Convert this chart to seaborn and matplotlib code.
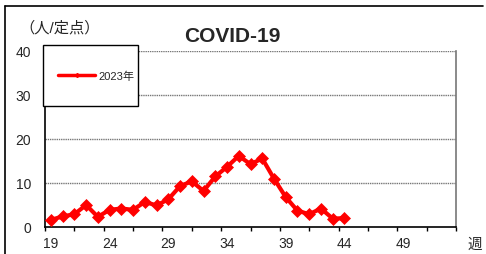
"""COVID-19 weekly reports per sentinel site, 2023."""

import matplotlib
matplotlib.use("Agg")
import matplotlib.pyplot as plt
import numpy as np
import pandas as pd
import seaborn as sns
from matplotlib.lines import Line2D
from matplotlib.patches import Rectangle

# Data
WEEKS = list(range(19, 45))
VALUES_2023 = [1.5, 2.3, 2.8, 4.9, 2.2, 3.8, 4.1, 3.8, 5.6, 4.8, 6.2, 9.2, 10.3,
               8.1, 11.4, 13.6, 16.1, 14.2, 15.5, 10.9, 6.7, 3.6, 2.8, 4.1, 1.8, 1.9]
X_LABEL_WEEKS = [19, 24, 29, 34, 39, 44, 49]
Y_TICKS = [0, 10, 20, 30, 40]
SERIES_NAME = "2023年"

sns.set_style("white")
plt.rcParams["font.family"] = ["Liberation Sans", "Noto Sans CJK JP", "DejaVu Sans"]

df = pd.DataFrame({"week": WEEKS, "value": VALUES_2023})

W, H = 486, 255
fig = plt.figure(figsize=(W / 100, H / 100), dpi=100)
ax = fig.add_axes([45 / W, 1 - 227.5 / H, 411 / W, 175.5 / H])

sns.lineplot(data=df, x="week", y="value", ax=ax, color="#ff0000", lw=3,
             marker="D", markersize=5.8, markeredgecolor="#ff0000",
             markeredgewidth=0.5, clip_on=False, zorder=3)

ax.set_xlim(18.5, 53.5)
ax.set_ylim(0, 40)
ax.set_xlabel("")
ax.set_ylabel("")

# grid lines
for y in Y_TICKS[1:]:
    ax.axhline(y, color="#777777", lw=1.0, ls=(0, (1, 0.6)), zorder=1)

ax.set_yticks(Y_TICKS)
ax.set_xticks(X_LABEL_WEEKS)
ax.set_xticks(np.arange(18.5, 53.6, 2.5), minor=True)
ax.tick_params(axis="y", length=0, pad=10, labelsize=10)
ax.tick_params(axis="x", which="major", length=0, pad=7, labelsize=10)
ax.tick_params(axis="x", which="minor", length=3, width=1, direction="out",
               color="black", bottom=True)

for side in ["left", "bottom"]:
    ax.spines[side].set_color("black")
    ax.spines[side].set_linewidth(1.2)
ax.spines["right"].set_color("#777777")
ax.spines["right"].set_linewidth(1.2)
ax.spines["top"].set_visible(False)

# legend box overlapping the top-left corner
ax.add_patch(Rectangle((-0.005, 0.687), 0.231, 0.347, transform=ax.transAxes,
                       facecolor="white", edgecolor="black", lw=1.0,
                       clip_on=False, zorder=5))
handle = Line2D([], [], color="#ff0000", lw=2.5, marker="D", markersize=2)
leg = ax.legend([handle], [SERIES_NAME], loc="center left",
                bbox_to_anchor=(0.008, 0.86), frameon=False, fontsize=8,
                handlelength=3.3, handletextpad=0.3)
leg.set_zorder(6)

fig.text(232 / W, 1 - 37 / H, "COVID-19", ha="center", va="center",
         fontsize=15, fontweight="bold")
fig.text(19 / W, 1 - 28 / H, "（人/定点）", ha="left", va="center", fontsize=11)
fig.text(475 / W, 1 - 245 / H, "週", ha="center", va="center", fontsize=10.5)

# outer frame (top and left)
fig.add_artist(Line2D([5 / W, 483 / W], [1 - 7 / H, 1 - 7 / H], color="black", lw=1.2))
fig.add_artist(Line2D([5 / W, 5 / W], [1 - 7 / H, 0], color="black", lw=1.2))

plt.savefig("out.png", dpi=100)
plt.close()
